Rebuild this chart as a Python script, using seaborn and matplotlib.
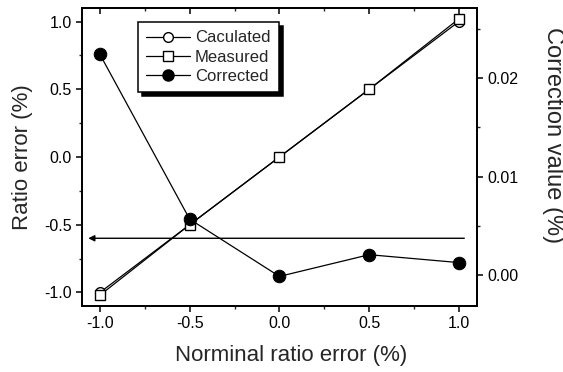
import matplotlib
matplotlib.use("Agg")
import matplotlib.pyplot as plt
from matplotlib.ticker import MultipleLocator
from matplotlib.lines import Line2D
import seaborn as sns
import pandas as pd

nominal = [-1.0, -0.5, 0.0, 0.5, 1.0]
calculated = [-1.0, -0.5, 0.0, 0.5, 1.0]
measured = [-1.02, -0.5, 0.0, 0.5, 1.02]
corrected = [0.0224, 0.0057, -0.0001, 0.0021, 0.0013]
arrow_level = -0.6

sns.set_theme(style="ticks")
plt.rcParams['font.family'] = ['Liberation Sans', 'DejaVu Sans']

df = pd.DataFrame({"x": nominal, "calc": calculated, "meas": measured, "corr": corrected})

fig = plt.figure(figsize=(5.63, 3.72), dpi=100)
ax = fig.add_axes([0.1456, 0.1774, 0.7014, 0.8011])
ax2 = ax.twinx()

lw = 0.9
sns.lineplot(data=df, x="x", y="calc", ax=ax, color="black", lw=lw, marker="o",
             markersize=7, markerfacecolor="white", markeredgecolor="black",
             markeredgewidth=1.0)
sns.lineplot(data=df, x="x", y="meas", ax=ax, color="black", lw=lw, marker="s",
             markersize=7, markerfacecolor="white", markeredgecolor="black",
             markeredgewidth=1.0)
sns.lineplot(data=df, x="x", y="corr", ax=ax2, color="black", lw=lw, marker="o",
             markersize=9, markerfacecolor="black", markeredgecolor="black")

ax.annotate("", xy=(-1.065, arrow_level), xytext=(1.03, arrow_level),
            arrowprops=dict(arrowstyle="-|>", color="black", lw=1.0,
                            mutation_scale=9, shrinkA=0, shrinkB=0))

ax.set_xlim(-1.1, 1.1)
ax.set_ylim(-1.1, 1.1)
ax2.set_ylim(-0.0031, 0.0271)

ax.xaxis.set_major_locator(MultipleLocator(0.5))
ax.xaxis.set_minor_locator(MultipleLocator(0.25))
ax.yaxis.set_major_locator(MultipleLocator(0.5))
ax.yaxis.set_minor_locator(MultipleLocator(0.25))
ax2.yaxis.set_major_locator(MultipleLocator(0.01))
ax2.yaxis.set_minor_locator(MultipleLocator(0.005))
ax.set_xticks(nominal)
ax.set_xticklabels(["-1.0", "-0.5", "0.0", "0.5", "1.0"])
ax.set_yticks([-1.0, -0.5, 0.0, 0.5, 1.0])
ax.set_yticklabels(["-1.0", "-0.5", "0.0", "0.5", "1.0"])
ax2.set_yticks([0.0, 0.01, 0.02])
ax2.set_yticklabels(["0.00", "0.01", "0.02"])

for a in (ax, ax2):
    for s in a.spines.values():
        s.set_linewidth(1.3)
        s.set_color("black")
        s.set_visible(True)

ax.tick_params(axis="both", which="major", direction="out", length=4, width=1.1,
               labelsize=11.5, colors="black", top=True)
ax.tick_params(axis="both", which="minor", direction="out", length=2.5, width=1.0, top=True)
ax.tick_params(axis="x", which="both", top=True)
ax2.tick_params(axis="y", which="major", direction="out", length=4, width=1.1,
                labelsize=11.5, colors="black")
ax2.tick_params(axis="y", which="minor", direction="out", length=2.5, width=1.0)
# top ticks inward
for t in ax.xaxis.get_major_ticks() + ax.xaxis.get_minor_ticks():
    t.tick2line.set_marker(3)

ax.set_xlabel("Norminal ratio error (%)", fontsize=16, labelpad=10)
ax.xaxis.label.set_x(0.53)
ax.set_ylabel("Ratio error (%)", fontsize=16, labelpad=8)
ax2.set_ylabel("Correction value (%)", fontsize=17, rotation=270, labelpad=33)
ax2.yaxis.label.set_y(0.575)

handles = [
    Line2D([], [], color="black", lw=lw, marker="o", markersize=7,
           markerfacecolor="white", markeredgecolor="black"),
    Line2D([], [], color="black", lw=lw, marker="s", markersize=7,
           markerfacecolor="white", markeredgecolor="black"),
    Line2D([], [], color="black", lw=lw, marker="o", markersize=8,
           markerfacecolor="black", markeredgecolor="black"),
]
leg = ax2.legend(handles, ["Caculated", "Measured", "Corrected"], loc="upper left",
                 bbox_to_anchor=(0.142, 0.953), borderaxespad=0, fontsize=12,
                 frameon=True, fancybox=False, edgecolor="black",
                 shadow={"ox": 3, "oy": -3, "color": "black", "alpha": 1.0},
                 handlelength=2.6, handletextpad=0.3, labelspacing=0.25,
                 borderpad=0.5)
leg.get_frame().set_linewidth(1.1)
leg.get_frame().set_alpha(1)

fig.savefig("out.png", dpi=100)
